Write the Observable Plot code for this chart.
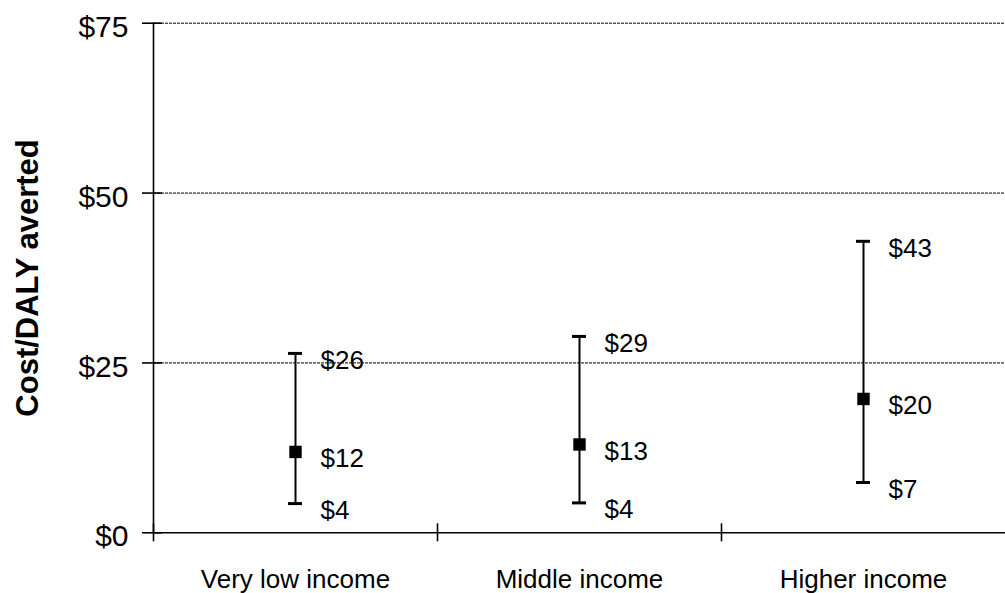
<!DOCTYPE html>
<html>
<head>
<meta charset="utf-8">
<script src="https://cdn.jsdelivr.net/npm/d3@7"></script>
<script src="https://cdn.jsdelivr.net/npm/@observablehq/plot@0.6"></script>
<style>
  html, body { margin: 0; padding: 0; background: #fff; overflow: hidden; }
  #chart svg { display: block; }
</style>
</head>
<body>
<div id="chart"></div>
<script>
// Cost per DALY averted by income group: low / base / high estimates
const categories = ["Very low income", "Middle income", "Higher income"];
const lowValues  = [4.3, 4.4, 7.4];
const baseValues = [11.9, 13.0, 19.7];
const highValues = [26.4, 28.9, 42.9];
const yTicks = [0, 25, 50, 75];
const gridTicks = [25, 50, 75];
const yTitle = "Cost/DALY averted";

const rows = categories.map((c, i) => ({
  group: c, low: lowValues[i], base: baseValues[i], high: highValues[i]
}));
const labelRows = rows.flatMap(r => [
  {group: r.group, v: r.high},
  {group: r.group, v: r.base},
  {group: r.group, v: r.low}
]);
const dollars = v => "$" + Math.round(v);

const width = 1005, height = 593;
const marginLeft = 153, marginRight = 0, marginTop = 22.7, marginBottom = 60.7;
const bw = (width - marginLeft - marginRight) / categories.length;
const capWidth = 14;

const chart = Plot.plot({
  width, height, marginLeft, marginRight, marginTop, marginBottom,
  style: {fontFamily: "'Liberation Sans', Arial, sans-serif", fontSize: "26px", color: "#000", background: "#fff"},
  x: {type: "band", domain: categories, padding: 0, label: null},
  y: {domain: [0, 75], label: null},
  marks: [
    // dotted gridlines
    Plot.ruleY(gridTicks, {stroke: "#000", strokeWidth: 1, strokeDasharray: "3,1"}),
    // category axis line and y axis line
    Plot.ruleY([0], {stroke: "#000", strokeWidth: 1.6}),
    Plot.ruleX([categories[0]], {y1: 0, y2: 75, dx: -bw / 2, stroke: "#000", strokeWidth: 1.6}),
    // y axis: crossing tick marks, then dollar labels
    Plot.axisY({ticks: yTicks, tickSize: 20, dx: 9, tickFormat: () => "", strokeWidth: 1.6, label: null}),
    Plot.axisY({ticks: yTicks, tickSize: 0, tickPadding: 25, dy: 4, tickFormat: d => "$" + d, fontSize: 30, label: null}),
    // x axis: tick marks between categories, then category names
    Plot.axisX({ticks: categories, tickSize: 18, dx: -bw / 2, dy: -9, tickFormat: () => "", strokeWidth: 1.6, label: null}),
    Plot.axisX({ticks: categories, tickSize: 0, tickPadding: 37, fontSize: 26, label: null}),
    // error bars
    Plot.ruleX(rows, {x: "group", y1: "low", y2: "high", stroke: "#000", strokeWidth: 2}),
    Plot.tickY(rows, {x: "group", y: "low", inset: (bw - capWidth) / 2, stroke: "#000", strokeWidth: 3}),
    Plot.tickY(rows, {x: "group", y: "high", inset: (bw - capWidth) / 2, stroke: "#000", strokeWidth: 3}),
    Plot.dot(rows, {x: "group", y: "base", symbol: "square", r: 7, fill: "#000", stroke: null}),
    // value labels
    Plot.text(labelRows, {x: "group", y: "v", text: d => dollars(d.v), dx: 25, dy: 7, textAnchor: "start", fontSize: 26, fill: "#000"}),
    // y axis title, centred along the frame height
    Plot.text([yTitle], {frameAnchor: "left", text: d => d, rotate: -90, dx: -116, textAnchor: "middle", lineAnchor: "bottom", fontSize: 31, fontWeight: "bold", fill: "#000"})
  ]
});

document.getElementById("chart").append(chart);
</script>
</body>
</html>
